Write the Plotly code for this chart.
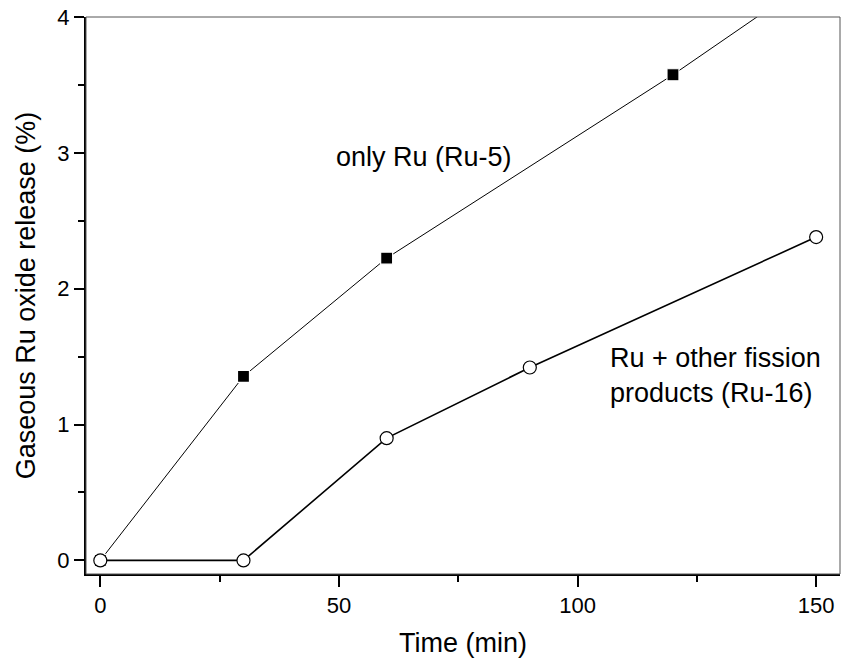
import plotly.graph_objects as go

# Data
time_ru5 = [0, 30, 60, 120, 150]
release_ru5 = [0.0, 1.355, 2.225, 3.575, 4.30]

time_ru16 = [0, 30, 60, 90, 150]
release_ru16 = [0.0, 0.0, 0.90, 1.42, 2.38]

x_ticks = [0, 50, 100, 150]
y_ticks = [0, 1, 2, 3, 4]

FONT = "Liberation Sans, Arial, sans-serif"

fig = go.Figure()

fig.add_trace(go.Scatter(
    x=time_ru5, y=release_ru5, mode="lines+markers",
    line=dict(color="black", width=1),
    marker=dict(symbol="square", size=12, color="black",
                line=dict(color="white", width=1.2)),
    showlegend=False,
))

fig.add_trace(go.Scatter(
    x=time_ru16, y=release_ru16, mode="lines+markers",
    line=dict(color="black", width=1.6),
    marker=dict(symbol="circle", size=13, color="white",
                line=dict(color="black", width=1.2)),
    showlegend=False,
))

fig.add_annotation(x=67.8, y=2.97, xref="x", yref="y",
                   text="only Ru (Ru-5)", showarrow=False,
                   xanchor="center", yanchor="middle",
                   font=dict(family=FONT, size=27, color="black"))

fig.add_annotation(x=106.3, y=1.36, xref="x", yref="y",
                   text="Ru + other fission<br>products (Ru-16)", showarrow=False,
                   xanchor="left", yanchor="middle", align="left",
                   font=dict(family=FONT, size=27, color="black"))

# thin frame (top/right)
fig.add_shape(type="rect", xref="paper", yref="paper", x0=0, y0=0, x1=1, y1=1,
              line=dict(color="#555555", width=1), layer="above")

fig.update_layout(
    width=842, height=663,
    margin=dict(l=86, r=2, t=17, b=89),
    paper_bgcolor="white", plot_bgcolor="white",
    font=dict(family=FONT, color="black"),
    xaxis=dict(
        range=[-3, 155], tickvals=x_ticks, ticktext=[str(v) for v in x_ticks],
        ticks="outside", ticklen=11, tickwidth=2, tickcolor="black",
        showline=True, linecolor="black", linewidth=2,
        showgrid=False, zeroline=False,
        tickfont=dict(family=FONT, size=22),
        title=dict(text="Time (min)", font=dict(family=FONT, size=27), standoff=16),
        minor=dict(dtick=25, tick0=0, ticks="outside", ticklen=6, tickwidth=2,
                   tickcolor="black", showgrid=False),
    ),
    yaxis=dict(
        range=[-0.1, 4], tickvals=y_ticks, ticktext=[str(v) for v in y_ticks],
        ticks="outside", ticklen=10, tickwidth=2, tickcolor="black",
        showline=True, linecolor="black", linewidth=2,
        showgrid=False, zeroline=False,
        tickfont=dict(family=FONT, size=22),
        title=dict(text="Gaseous Ru oxide release (%)", font=dict(family=FONT, size=27), standoff=14),
        minor=dict(dtick=0.5, tick0=0, ticks="outside", ticklen=6, tickwidth=2,
                   tickcolor="black", showgrid=False),
    ),
)

fig.write_html("out.html", config={"displayModeBar": False},
               post_script="document.body.style.margin='0px';document.body.style.overflow='hidden';")
